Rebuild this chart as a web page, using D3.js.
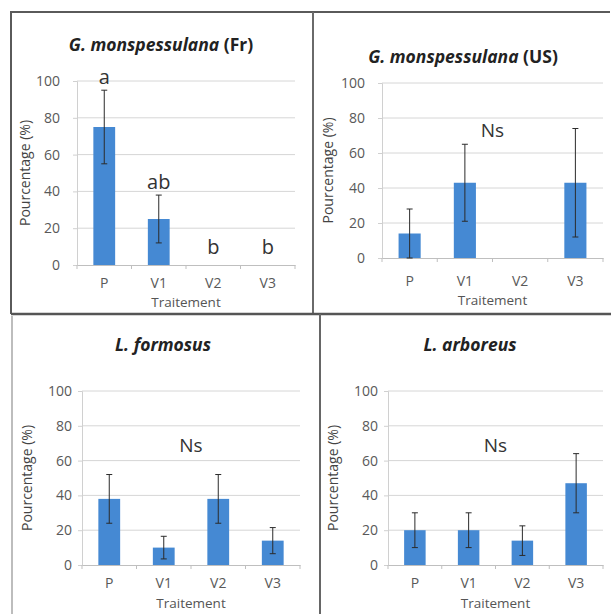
<!DOCTYPE html>
<html lang="fr">
<head>
<meta charset="utf-8">
<script src="https://d3js.org/d3.v7.min.js"></script>
<style>
  body { margin: 0; background: #fff; }
  svg { display: block; font-family: "Open Sans", "DejaVu Sans", sans-serif; }
  .grid line { stroke: #d6d6d6; stroke-width: 1; }
  .tick text { fill: #595959; }
  .bar { fill: #4589d3; }
  .err { stroke: #2b2b2b; stroke-width: 1; }
</style>
</head>
<body>
<svg width="611" height="614"></svg>
<script>

// categories, shared by the four charts
var categories = ["P", "V1", "V2", "V3"];
var yTicks = [0, 20, 40, 60, 80, 100];

// G. monspessulana (Fr)
var valuesFr = [75, 25, 0, 0];
var errorsFr = [20, 13, 0, 0];
var lettersFr = ["a", "ab", "b", "b"];
var letterLevelsFr = [102, 45, 10, 10];

// G. monspessulana (US)
var valuesUS = [14, 43, 0, 43];
var errorsUS = [14, 22, 0, 31];

// L. formosus
var valuesForm = [38, 10, 38, 14];
var errorsForm = [14, 6.5, 14, 7.5];

// L. arboreus
var valuesArb = [20, 20, 14, 47];
var errorsArb = [10, 10, 8.5, 17];

var nsLevels = [73, 69, 69];

var panels = [
  { sp: "G. monspessulana", extra: " (Fr)", values: valuesFr, errors: errorsFr, letters: lettersFr, letterLevels: letterLevelsFr,
    x0: 77, x1: 295, y0: 81, y1: 265, tx: 161, ty: 45, ylx: 25, tickOff: 17, xlab: 22, xtitle: 37 },
  { sp: "G. monspessulana", extra: " (US)", values: valuesUS, errors: errorsUS, ns: nsLevels[0],
    x0: 382, x1: 603, y0: 83, y1: 258, tx: 463, ty: 57, ylx: 328, tickOff: 17, xlab: 27, xtitle: 42 },
  { sp: "L. formosus", extra: "", values: valuesForm, errors: errorsForm, ns: nsLevels[1],
    x0: 82, x1: 300, y0: 391, y1: 565, tx: 163, ty: 345, ylx: 27, tickOff: 10, xlab: 22, xtitle: 38 },
  { sp: "L. arboreus", extra: "", values: valuesArb, errors: errorsArb, ns: nsLevels[2],
    x0: 388, x1: 603, y0: 391, y1: 565, tx: 470, ty: 345, ylx: 333, tickOff: 10, xlab: 22, xtitle: 38 }
];

var svg = d3.select("svg");

// frame lines between the pictures
var frame = svg.append("g").attr("fill", "none");
frame.append("path").attr("d", "M11,314 L11,12 L610,12").attr("stroke", "#5a5a5a").attr("stroke-width", 2);
frame.append("path").attr("d", "M313,12 L313,314").attr("stroke", "#6a6a6a").attr("stroke-width", 2);
frame.append("path").attr("d", "M11,314 L611,314").attr("stroke", "#555").attr("stroke-width", 2.5);
frame.append("path").attr("d", "M320,314 L320,614").attr("stroke", "#666").attr("stroke-width", 2);
frame.append("path").attr("d", "M12,316 L12,614").attr("stroke", "#bdbdbd").attr("stroke-width", 2);

panels.forEach(function(p) {
  var g = svg.append("g");

  var x = d3.scaleBand()
    .domain(categories)
    .range([p.x0, p.x1])
    .paddingInner(0.6)
    .paddingOuter(0.3);

  var y = d3.scaleLinear()
    .domain([0, 100])
    .range([p.y1, p.y0]);

  // gridlines
  g.append("g").attr("class", "grid")
    .selectAll("line")
    .data(yTicks.slice(1))
    .enter().append("line")
      .attr("x1", p.x0).attr("x2", p.x1)
      .attr("y1", function(d) { return y(d); })
      .attr("y2", function(d) { return y(d); });

  // y axis
  var yAxis = g.append("g")
    .attr("transform", "translate(" + p.x0 + ",0)")
    .call(d3.axisLeft(y).tickValues(yTicks).tickSize(4).tickPadding(p.tickOff - 4));
  yAxis.select(".domain").attr("stroke", "#d0d0d0");
  yAxis.selectAll(".tick line").attr("stroke", "#d0d0d0");
  yAxis.selectAll("text").attr("font-size", 14).attr("font-family", "Open Sans");

  // x axis
  var xAxis = g.append("g")
    .attr("transform", "translate(0," + p.y1 + ")")
    .call(d3.axisBottom(x).tickSize(0).tickPadding(p.xlab - 9));
  xAxis.select(".domain").attr("stroke", "#bfbfbf");
  xAxis.selectAll("text").attr("font-size", 14).attr("font-family", "Open Sans");

  // small marks between categories
  var step = x.step();
  g.append("g").selectAll("line")
    .data(d3.range(categories.length + 1))
    .enter().append("line")
      .attr("x1", function(i) { return p.x0 + i * step; })
      .attr("x2", function(i) { return p.x0 + i * step; })
      .attr("y1", p.y1).attr("y2", p.y1 + 4)
      .attr("stroke", "#bfbfbf");

  // bars
  g.append("g").selectAll("rect")
    .data(p.values)
    .enter().append("rect")
      .attr("class", "bar")
      .attr("x", function(d, i) { return x(categories[i]); })
      .attr("width", x.bandwidth())
      .attr("y", function(d) { return y(d); })
      .attr("height", function(d) { return y(0) - y(d); });

  // error bars
  var eg = g.append("g").attr("class", "err");
  p.values.forEach(function(v, i) {
    var e = p.errors[i];
    if (!e) return;
    var cx = x(categories[i]) + x.bandwidth() / 2;
    var lo = Math.max(0, v - e), hi = v + e;
    eg.append("line").attr("x1", cx).attr("x2", cx).attr("y1", y(lo)).attr("y2", y(hi));
    eg.append("line").attr("x1", cx - 3).attr("x2", cx + 3).attr("y1", y(hi)).attr("y2", y(hi));
    eg.append("line").attr("x1", cx - 3).attr("x2", cx + 3).attr("y1", y(lo)).attr("y2", y(lo));
  });

  // significance letters or Ns
  if (p.letters) {
    g.append("g").selectAll("text")
      .data(p.letters)
      .enter().append("text")
        .attr("x", function(d, i) { return x(categories[i]) + x.bandwidth() / 2; })
        .attr("y", function(d, i) { return y(p.letterLevels[i]); })
        .attr("dy", "0.35em")
        .attr("text-anchor", "middle")
        .attr("font-size", 20)
        .attr("fill", "#333")
        .text(function(d) { return d; });
  } else {
    g.append("text")
      .attr("x", (p.x0 + p.x1) / 2)
      .attr("y", y(p.ns))
      .attr("dy", "0.35em")
      .attr("text-anchor", "middle")
      .attr("font-size", 19)
      .attr("fill", "#333")
      .text("Ns");
  }

  // title
  var t = g.append("text")
    .attr("x", p.tx).attr("y", p.ty)
    .attr("dy", "0.35em")
    .attr("text-anchor", "middle")
    .attr("font-size", 17.5)
    .attr("font-weight", "bold")
    .attr("fill", "#222");
  t.append("tspan").attr("font-style", "italic").text(p.sp);
  if (p.extra) t.append("tspan").text(p.extra);

  // axis titles
  g.append("text")
    .attr("transform", "translate(" + p.ylx + "," + ((p.y0 + p.y1) / 2) + ") rotate(-90)")
    .attr("dy", "0.35em")
    .attr("text-anchor", "middle")
    .attr("font-size", 14)
    .attr("fill", "#444")
    .text("Pourcentage (%)");

  g.append("text")
    .attr("x", (p.x0 + p.x1) / 2)
    .attr("y", p.y1 + p.xtitle)
    .attr("dy", "0.35em")
    .attr("text-anchor", "middle")
    .attr("font-size", 13.5)
    .attr("fill", "#555")
    .text("Traitement");
});

</script>
</body>
</html>
